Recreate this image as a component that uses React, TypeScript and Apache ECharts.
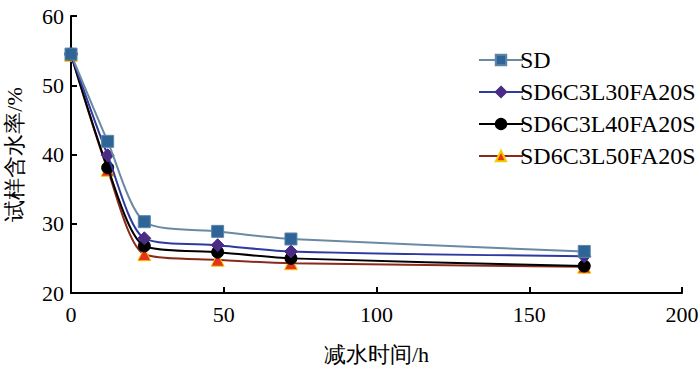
import React, { useEffect, useRef } from "react";
import * as echarts from "echarts";

const hours = [0, 12, 24, 48, 72, 168];
const sdValues = [54.5, 41.9, 30.3, 28.9, 27.8, 26.0];
const l30Values = [54.5, 39.9, 27.9, 26.9, 26.0, 25.3];
const l40Values = [54.5, 38.1, 26.8, 25.9, 25.0, 23.9];
const l50Values = [54.4, 37.8, 25.6, 24.8, 24.3, 23.8];
const seriesNames = ["SD", "SD6C3L30FA20S", "SD6C3L40FA20S", "SD6C3L50FA20S"];
const xAxisName = "减水时间/h";
const yAxisName = "试样含水率/%";

const FONT = '"Times New Roman", "Liberation Serif", "DejaVu Serif", serif';

function pairs(values: number[]) {
  return hours.map((h, i) => [h, values[i]]);
}

export default function App() {
  const ref = useRef<HTMLDivElement>(null);
  useEffect(() => {
    document.body.style.margin = "0";
    if (!ref.current) return;
    const chart = echarts.init(ref.current, undefined, { renderer: "svg" });
    const mk = (
      name: string,
      values: number[],
      lineColor: string,
      markColor: string,
      symbol: string,
      size: number,
      border: string,
      z: number
    ) => ({
      name,
      type: "line",
      data: pairs(values),
      smooth: 0.25,
      symbol,
      symbolSize: size,
      z,
      lineStyle: { color: lineColor, width: 2 },
      itemStyle: { color: markColor, borderColor: border, borderWidth: 1 },
    });
    chart.setOption({
      animation: false,
      backgroundColor: "#ffffff",
      textStyle: { fontFamily: FONT },
      grid: { left: 71, right: 18, top: 16, bottom: 84, containLabel: false, outerBoundsMode: "none" },
      legend: {
        orient: "vertical",
        left: 473,
        top: 43,
        itemWidth: 44,
        itemHeight: 13,
        itemGap: 8,
        textStyle: { fontFamily: FONT, fontSize: 24, color: "#000", padding: [0, 0, 0, -8] },
        data: seriesNames,
      },
      xAxis: {
        type: "value",
        min: 0,
        max: 200,
        interval: 50,
        name: xAxisName,
        nameLocation: "middle",
        nameGap: 50,
        nameTextStyle: { fontFamily: FONT, fontSize: 22, color: "#000" },
        axisLine: { lineStyle: { color: "#000", width: 2 } },
        axisTick: { inside: true, length: 6, lineStyle: { color: "#000", width: 2 } },
        axisLabel: { fontFamily: FONT, fontSize: 22, color: "#000", margin: 10 },
        splitLine: { show: false },
      },
      yAxis: {
        type: "value",
        min: 20,
        max: 60,
        interval: 10,
        name: yAxisName,
        nameLocation: "middle",
        nameGap: 46,
        nameRotate: 90,
        nameTextStyle: { fontFamily: FONT, fontSize: 22, color: "#000" },
        axisLine: { show: true, lineStyle: { color: "#000", width: 2 } },
        axisTick: { show: true, inside: true, length: 6, lineStyle: { color: "#000", width: 2 } },
        axisLabel: { fontFamily: FONT, fontSize: 22, color: "#000", margin: 7 },
        splitLine: { show: false },
      },
      series: [
        mk(seriesNames[0], sdValues, "#6a8aa3", "#2e6596", "rect", 12, "#5b86aa", 4),
        mk(seriesNames[1], l30Values, "#2f3aa0", "#4a2b86", "diamond", 13, "#4a2b86", 3),
        mk(seriesNames[2], l40Values, "#000000", "#000000", "circle", 12, "#000000", 2),
        mk(seriesNames[3], l50Values, "#8b2a1a", "#e8321e", "triangle", 13, "#f2d000", 1),
      ],
    });
    return () => chart.dispose();
  }, []);
  return <div ref={ref} style={{ width: 700, height: 377 }} />;
}
